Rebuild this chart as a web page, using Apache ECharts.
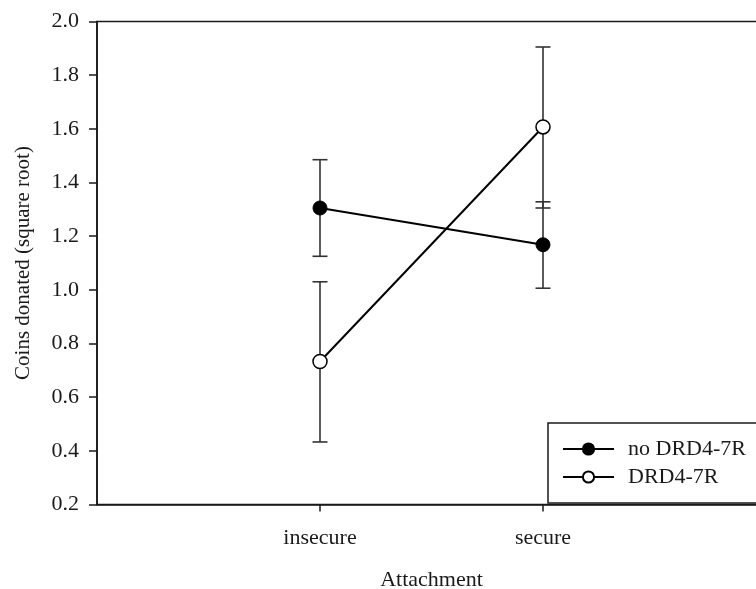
<!DOCTYPE html>
<html><head><meta charset="utf-8">
<script src="https://cdn.jsdelivr.net/npm/echarts@6/dist/echarts.min.js"></script>
<style>html,body{margin:0;padding:0;background:#fff;overflow:hidden}#c{width:770px;height:589px}</style>
</head><body><div id="c"></div>
<script>
var categories = ['insecure', 'secure'];
var seriesNames = ['no DRD4-7R', 'DRD4-7R'];
var noDRD4Mean = [1.305, 1.168];
var noDRD4Low = [1.125, 1.006];
var noDRD4High = [1.485, 1.328];
var DRD4Mean = [0.733, 1.607];
var DRD4Low = [0.433, 1.305];
var DRD4High = [1.030, 1.905];
var yTicks = [0.2, 0.4, 0.6, 0.8, 1.0, 1.2, 1.4, 1.6, 1.8, 2.0];

var xData = [''].concat(categories).concat(['']);
var font = 'Liberation Serif';
var ink = '#1a1a1a';

function pairs(vals) { return categories.map(function (c, i) { return [c, vals[i]]; }); }
function errData(lo, hi) { return categories.map(function (c, i) { return [c, lo[i], hi[i]]; }); }

function errRender(params, api) {
  var x = api.value(0);
  var p1 = api.coord([x, api.value(1)]);
  var p2 = api.coord([x, api.value(2)]);
  var w = 7.5;
  var st = { stroke: '#333', lineWidth: 1.6 };
  return {
    type: 'group',
    children: [
      { type: 'line', shape: { x1: p1[0], y1: p1[1], x2: p2[0], y2: p2[1] }, style: st },
      { type: 'line', shape: { x1: p1[0] - w, y1: p1[1], x2: p1[0] + w, y2: p1[1] }, style: st },
      { type: 'line', shape: { x1: p2[0] - w, y1: p2[1], x2: p2[0] + w, y2: p2[1] }, style: st }
    ]
  };
}

var chart = echarts.init(document.getElementById('c'), null, { renderer: 'canvas' });
chart.setOption({
  animation: false,
  backgroundColor: '#fff',
  textStyle: { fontFamily: font, color: ink },
  grid: { left: 97, right: 4, top: 21.5, bottom: 84.5, outerBoundsMode: 'none', containLabel: false,
          show: true, borderColor: ink, borderWidth: 1.6, backgroundColor: 'transparent' },
  xAxis: {
    type: 'category', data: xData, boundaryGap: false,
    axisLine: { lineStyle: { color: ink, width: 1.6 } },
    axisTick: { length: 7, lineStyle: { color: ink, width: 1.5 }, interval: function (i, v) { return v !== ''; } },
    axisLabel: { fontFamily: font, fontSize: 22, color: ink, margin: 23, interval: 0 },
    splitLine: { show: false },
    name: 'Attachment', nameLocation: 'middle', nameGap: 65,
    nameTextStyle: { fontFamily: font, fontSize: 22, color: ink }
  },
  yAxis: {
    type: 'value', min: yTicks[0], max: yTicks[yTicks.length - 1], interval: 0.2,
    axisLine: { show: true, lineStyle: { color: ink, width: 1.6 } },
    axisTick: { show: true, length: 8, lineStyle: { color: ink, width: 1.5 } },
    axisLabel: { fontFamily: font, fontSize: 22, color: ink, margin: 18, formatter: function (v) { return v.toFixed(1); } },
    splitLine: { show: false },
    name: 'Coins donated (square root)', nameLocation: 'middle', nameGap: 63, nameRotate: 90,
    nameTextStyle: { fontFamily: font, fontSize: 21, color: ink }
  },
  legend: {
    orient: 'vertical', left: 548, top: 423,
    padding: [15, 40, 15, 14],
    itemWidth: 51, itemHeight: 14, itemGap: 6,
    backgroundColor: '#fff', borderColor: ink, borderWidth: 1.5,
    data: seriesNames,
    textStyle: { fontFamily: font, fontSize: 22, color: ink, lineHeight: 22, padding: [0, 0, 0, 9] }
  },
  series: [
    { type: 'custom', name: 'err1', renderItem: errRender, data: errData(noDRD4Low, noDRD4High), encode: { x: 0, y: [1, 2] }, z: 1 },
    { type: 'custom', name: 'err2', renderItem: errRender, data: errData(DRD4Low, DRD4High), encode: { x: 0, y: [1, 2] }, z: 1 },
    {
      type: 'line', name: seriesNames[0], data: pairs(noDRD4Mean), z: 3,
      symbol: 'circle', symbolSize: 14,
      lineStyle: { color: '#000', width: 2 },
      itemStyle: { color: '#000', borderColor: '#000', borderWidth: 1 }
    },
    {
      type: 'line', name: seriesNames[1], data: pairs(DRD4Mean), z: 3,
      symbol: 'circle', symbolSize: 14,
      lineStyle: { color: '#000', width: 2 },
      itemStyle: { color: '#fff', borderColor: '#000', borderWidth: 1.5 }
    }
  ]
});
</script></body></html>
